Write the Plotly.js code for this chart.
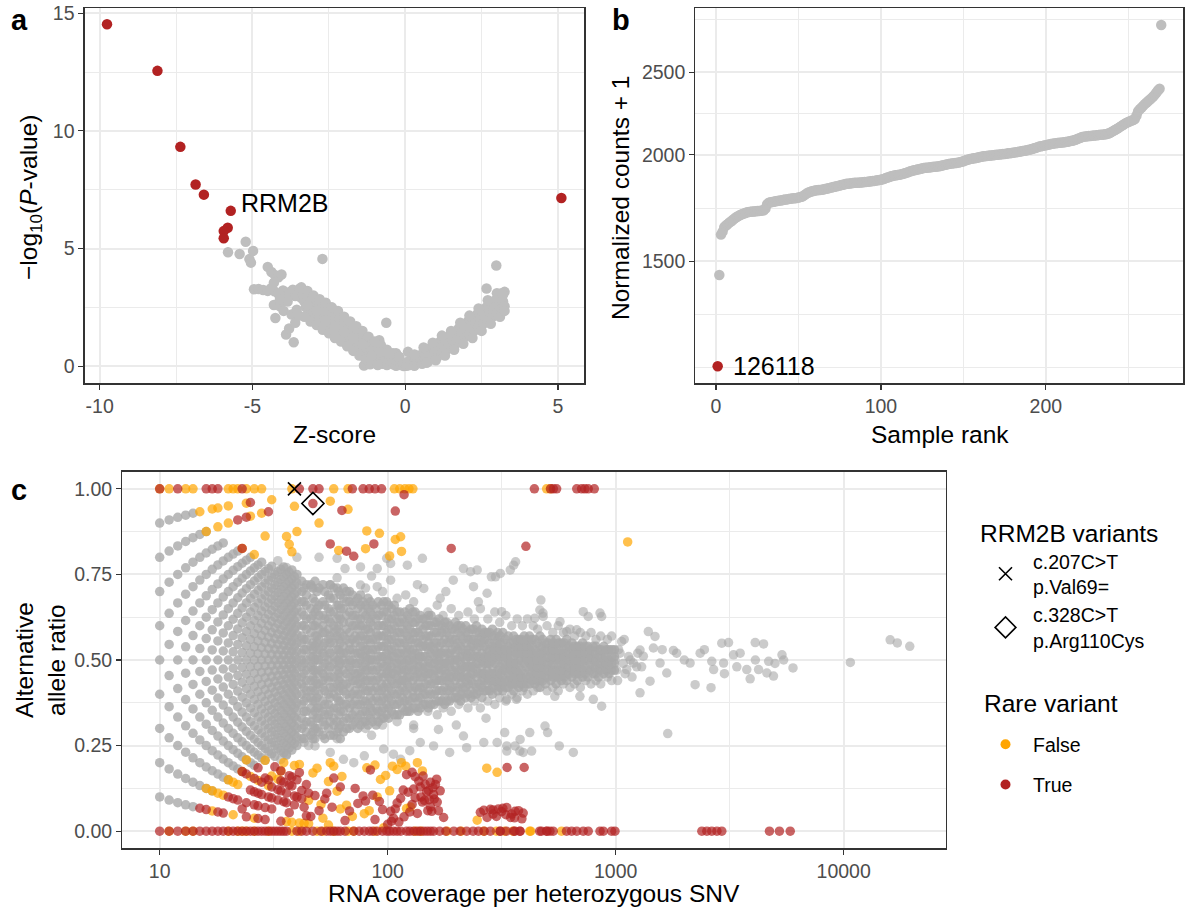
<!DOCTYPE html>
<html><head><meta charset="utf-8">
<script src="https://cdn.plot.ly/plotly-3.0.1.min.js"></script>
<style>html,body{margin:0;padding:0;background:#fff}#chart{width:1186px;height:912px}</style>
</head><body><div id="chart"></div>
<script>
// ---------- Panel a: Z-score vs -log10(P) ----------
const zTicks = [-10, -5, 0, 5];
const zTickText = ['-10', '-5', '0', '5'];
const pTicks = [0, 5, 10, 15];
const volcanoRed = [[-9.76,14.53],[-8.11,12.55],[-7.36,9.32],[-6.86,7.72],[-6.59,7.29],[-5.71,6.6],[-5.81,5.88],[-5.94,5.74],[-5.94,5.44],[5.11,7.15]];
const volcanoGrey = [
[-5.8,4.84],[-5.42,4.77],[-5.22,5.29],[-5.1,4.55],[-5.05,4.4],[-4.98,4.9],
[-4.95,3.27],[-4.8,3.28],[-4.65,3.24],[-4.5,3.2],[-4.4,3.3],[-4.28,3.18],[-4.15,3.08],[-4.0,3.22],[-3.88,3.0],[-3.78,3.15],[-3.68,3.25],[-3.6,2.98],[-3.52,3.12],[-3.45,3.3],[-3.4,2.9],
[-4.5,4.22],[-4.38,4.0],[-4.27,3.88],[-4.15,3.78],[-4.05,3.9],[-4.3,3.55],
[-4.25,2.05],[-4.3,2.6],[-4.1,2.55],[-3.98,2.35],[-3.9,1.35],[-3.65,1.02],[-3.8,1.6],[-3.72,2.2],[-3.6,1.85],[-3.55,2.4],[-3.48,2.15],[-3.85,2.75],[-4.1,2.85],
[-3.35,3.05],[-3.3,2.75],[-3.25,2.5],[-3.2,2.95],[-3.15,2.3],[-3.1,2.65],[-3.05,2.85],[-3.0,2.45],[-2.95,2.2],[-2.9,2.7],[-2.85,2.5],[-2.8,2.05],[-2.75,2.35],[-2.7,2.6],[-2.65,1.9],[-2.6,2.2],[-2.55,2.45],[-2.5,1.75],[-2.5,2.1],[-2.45,2.3],
[-2.4,1.6],[-2.35,1.95],[-2.3,2.2],[-2.25,1.45],[-2.2,1.75],[-2.15,2.0],[-2.1,1.3],[-2.05,1.6],[-2.0,1.85],[-1.95,1.15],[-1.9,1.45],[-1.85,1.65],[-1.8,1.0],[-1.75,1.3],[-1.7,1.55],[-1.65,0.85],[-1.6,1.15],[-1.55,1.4],[-1.5,0.7],[-1.5,1.0],
[-1.45,1.25],[-1.4,0.85],[-1.35,0.55],[-1.3,1.05],[-1.25,0.75],[-1.2,0.45],[-1.15,0.95],[-1.1,0.65],[-1.05,0.3],[-1.0,0.85],[-0.95,0.55],[-0.9,0.2],[-0.85,0.75],[-0.8,0.4],[-0.75,0.1],[-0.7,0.6],[-0.65,0.3],[-0.6,0.05],[-0.55,0.5],[-0.5,0.2],
[-0.45,0.4],[-0.4,0.08],[-0.35,0.28],[-0.3,0.02],[-0.25,0.18],[-0.2,0.35],[-0.15,0.05],[-0.1,0.15],[-0.05,0.01],[0.0,0.1],[0.05,0.02],[0.1,0.2],[0.15,0.05],[0.2,0.3],[0.25,0.1],[0.3,0.02],[0.35,0.35],[0.4,0.15],[0.45,0.45],[0.5,0.25],
[0.55,0.1],[0.6,0.55],[0.65,0.3],[0.7,0.7],[0.75,0.2],[0.8,0.45],[0.85,0.8],[0.9,0.35],[0.95,0.6],[1.0,0.95],[1.05,0.4],[1.1,0.7],[1.15,1.05],[1.2,0.55],[1.25,0.85],[1.3,1.15],[1.35,0.7],[1.4,1.0],[1.45,1.3],[1.5,0.8],
[1.55,1.1],[1.6,1.45],[1.65,0.95],[1.7,1.25],[1.75,1.6],[1.8,1.1],[1.85,1.4],[1.9,1.75],[1.95,1.25],[2.0,1.55],[2.05,1.9],[2.1,1.35],[2.15,1.7],[2.2,2.05],[2.25,1.5],[2.3,1.85],[2.35,2.2],[2.4,1.65],[2.45,2.0],[2.5,2.35],
[2.55,1.8],[2.6,2.15],[2.66,3.3],[2.65,2.5],[2.7,1.95],[2.75,2.3],[2.8,2.65],[2.85,2.1],[2.9,2.45],[2.95,2.8],[3.0,2.25],[3.05,2.6],[3.1,2.95],[3.13,3.09],[3.15,2.45],[3.2,2.75],[3.25,3.16],[3.25,2.55],[2.98,4.28],
[-2.71,4.56],[-0.62,1.85],[0.09,0.61],[-0.3,0.55],[-1.0,0.15],[-2.0,1.05],[-1.7,0.75],[0.3,0.5],[-0.85,1.1],[-1.35,0.03],[-1.15,0.08],
[-3.4,3.35],[-3.2,3.2],[-3.0,3.0],[-2.8,2.85],[-2.6,2.7],[-2.4,2.5],[-2.2,2.35],[-2.0,2.1],[-1.8,1.9],[-1.6,1.7],[-1.4,1.5],[-1.2,1.25],[-1.0,1.05],[-0.8,0.9],[-0.6,0.7],[-0.4,0.55],[-0.2,0.4],
[-3.3,2.1],[-3.1,1.9],[-2.9,1.75],[-2.7,1.55],[-2.5,1.4],[-2.3,1.2],[-2.1,1.05],[-1.9,0.85],[-1.7,0.65],[-1.5,0.45],[-1.3,0.3],[-1.1,0.12],[-0.9,0.05],
[-3.2,2.6],[-2.9,2.35],[-2.6,1.95],[-2.3,1.7],[-2.0,1.45],[-1.7,1.2],[-1.4,0.95],[-1.1,0.45],[-0.8,0.6],
[0.6,0.8],[0.9,1.0],[1.2,1.3],[1.5,1.5],[1.8,1.85],[2.1,2.15],[2.4,2.45],[2.7,2.8],[3.0,3.1],[3.2,3.05],
[0.7,0.15],[1.0,0.25],[1.3,0.45],[1.6,0.7],[1.9,0.95],[2.2,1.2],[2.5,1.5],[2.8,1.8],[3.1,2.1],[3.25,2.35]
];

// ---------- Panel b: sorted normalized counts ----------
const rankTicks = [0, 100, 200];
const countTicks = [1500, 2000, 2500];
const countsRed = [1129];          // sample 126118, rank 1
const countsGrey = [1445,1612,1625,1645,1652,1658,1665,1670,1676,
1682,1688,1693,1697,1701,1704,1707,1710,1712,1714,
1715,1716,1716,1717,1718,1718,1719,1720,1722,1730,
1750,1757,1759,1760,1762,1764,1765,1767,1768,1769,
1771,1772,1773,1775,1776,1777,1778,1779,1780,1782,
1784,1786,1790,1796,1802,1806,1809,1812,1814,1816,
1817,1818,1819,1820,1821,1823,1825,1827,1829,1831,
1833,1835,1837,1839,1841,1843,1845,1847,1849,1850,
1851,1852,1853,1854,1855,1855,1856,1856,1857,1858,
1859,1860,1861,1862,1863,1864,1866,1867,1869,1870,
1872,1875,1878,1881,1884,1887,1889,1891,1893,1894,
1895,1897,1899,1901,1904,1907,1910,1913,1916,1918,
1920,1922,1924,1926,1928,1930,1931,1932,1933,1934,
1935,1936,1937,1938,1939,1941,1943,1945,1947,1949,
1951,1953,1954,1955,1956,1957,1959,1961,1963,1966,
1969,1972,1975,1977,1979,1981,1982,1984,1986,1988,
1990,1992,1993,1994,1995,1996,1997,1998,1999,2000,
2001,2002,2003,2004,2005,2006,2008,2009,2010,2011,
2013,2014,2016,2017,2019,2021,2022,2024,2026,2028,
2030,2033,2036,2039,2042,2045,2047,2049,2051,2053,
2055,2057,2059,2061,2063,2064,2065,2066,2067,2068,
2069,2070,2072,2074,2076,2078,2080,2083,2087,2091,
2095,2099,2101,2102,2103,2104,2105,2106,2107,2108,
2109,2110,2111,2112,2113,2114,2116,2119,2123,2128,
2134,2139,2145,2151,2157,2163,2170,2176,2181,2186,
2190,2194,2198,2204,2225,2250,2262,2272,2283,2294,
2303,2312,2321,2330,2340,2352,2366,2380,2391,2841];

// ---------- Panel c: allele ratio vs coverage ----------
const covTicks = [10, 100, 1000, 10000];
const covTickText = ['10', '100', '1000', '10000'];
const ratioTicks = [0, 0.25, 0.5, 0.75, 1];
const ratioTickText = ['0.00', '0.25', '0.50', '0.75', '1.00'];
// low coverage: [coverage, [alt read counts]]
const fanColumns = [
[10,[1,2,3,4,5,6,7,8,9]],
[11,[1,2,3,4,5,6,7,8,9,10]],
[12,[1,2,3,4,5,6,7,8,9,10,11]],
[13,[1,2,3,4,5,6,7,8,9,10,11,12]],
[14,[1,2,3,4,5,6,7,8,9,10,11,12,13]],
[15,[2,3,4,5,6,7,8,9,10,11,12,13]],
[16,[2,3,4,5,6,7,8,9,10,11,12,13,14]],
[17,[2,3,4,5,6,7,8,9,10,11,12,13,14]],
[18,[3,4,5,6,7,8,9,10,11,12,13,14,15]],
[19,[3,4,5,6,7,8,9,10,11,12,13,14,15,16]],
[20,[3,4,5,6,7,8,9,10,11,12,13,14,15,16]],
[21,[4,5,6,7,8,9,10,11,12,13,14,15,16,17]],
[22,[4,5,6,7,8,9,10,11,12,13,14,15,16,17,18]],
[23,[4,5,6,7,8,9,10,11,12,13,14,15,16,17,18]],
[24,[5,6,7,8,9,10,11,12,13,14,15,16,17,18,19]],
[25,[5,6,7,8,9,10,11,12,13,14,15,16,17,18,19,20]],
[26,[5,6,7,8,9,10,11,12,13,14,15,16,17,18,19,20]],
[27,[6,7,8,9,10,11,12,13,14,15,16,17,18,19,20,21]],
[28,[6,7,8,9,10,11,12,13,14,15,16,17,18,19,20,21,22]],
[29,[6,7,8,9,10,11,12,13,14,15,16,17,18,19,20,21,22]],
[30,[7,8,9,10,11,12,13,14,15,16,17,18,19,20,21,22,23]],
[31,[7,8,9,10,11,12,13,14,15,16,17,18,19,20,21,22,23,24]],
[32,[7,8,9,10,11,12,13,14,15,16,17,18,19,20,21,22,23,24]],
[33,[8,9,10,11,12,13,14,15,16,17,18,19,20,21,22,23,24,25]],
[34,[8,9,10,11,12,13,14,15,16,17,18,19,20,21,22,23,24,25,26]],
[35,[8,9,10,11,12,13,14,15,16,17,18,19,20,21,22,23,24,25,26,27]],
[36,[8,9,10,11,12,13,14,15,16,17,18,19,20,21,22,23,24,25,26,27]],
[37,[9,10,11,12,13,14,15,16,17,18,19,20,21,22,23,24,25,26,27,28]],
[38,[9,10,11,12,13,14,15,16,17,18,19,20,21,22,23,24,25,26,27,28,29]],
[39,[10,11,12,13,14,15,16,17,18,19,20,21,22,23,24,25,26,27,28,29]],
[40,[10,11,12,13,14,15,16,17,18,19,20,21,22,23,24,25,26,27,28,29,30]]
];
// higher coverage: [coverage, [alternative allele ratios]]
const cloudColumns = [
[42,[.27,.3,.33,.37,.4,.43,.45,.48,.5,.52,.55,.57,.6,.64,.67,.7,.73]],
[44,[.29,.32,.35,.39,.41,.44,.47,.5,.53,.56,.59,.62,.66,.69,.72]],
[47,[.27,.29,.31,.34,.38,.42,.45,.47,.49,.51,.53,.55,.6,.63,.68,.71]],
[49,[.3,.33,.36,.39,.43,.46,.5,.52,.55,.57,.61,.65,.7]],
[52,[.28,.32,.35,.38,.42,.44,.46,.48,.52,.54,.58,.6,.63,.67,.72]],
[55,[.3,.34,.37,.4,.44,.47,.5,.53,.56,.59,.62,.65,.69]],
[58,[.28,.31,.33,.36,.4,.42,.45,.49,.51,.55,.58,.6,.64,.68,.71]],
[61,[.3,.34,.38,.41,.44,.46,.48,.5,.53,.56,.6,.63,.66,.7]],
[64,[.29,.32,.35,.37,.41,.43,.47,.5,.52,.54,.57,.61,.65,.68,.71]],
[68,[.3,.33,.36,.39,.42,.45,.48,.5,.53,.55,.58,.61,.64,.67,.7]],
[72,[.32,.35,.38,.41,.44,.46,.49,.52,.55,.57,.6,.63,.67]],
[76,[.31,.34,.37,.4,.43,.45,.47,.5,.52,.54,.57,.6,.62,.66,.69]],
[80,[.32,.35,.38,.41,.44,.47,.49,.51,.53,.56,.59,.63,.66]],
[84,[.33,.36,.39,.42,.45,.48,.5,.52,.55,.58,.61,.64,.67]],
[89,[.31,.34,.36,.39,.42,.44,.47,.5,.53,.56,.58,.62,.65]],
[94,[.33,.35,.38,.41,.43,.46,.49,.51,.54,.57,.6,.63,.66]],
[99,[.34,.37,.4,.43,.46,.48,.5,.52,.55,.58,.61,.64,.67]],
[104,[.35,.38,.41,.44,.46,.48,.51,.53,.56,.59,.62,.65]],
[110,[.34,.37,.4,.43,.45,.47,.49,.52,.55,.58,.61,.64]],
[116,[.36,.39,.42,.44,.46,.48,.5,.53,.56,.59,.62]],
[122,[.35,.37,.4,.43,.45,.47,.5,.52,.54,.57,.6,.63]],
[129,[.36,.39,.41,.44,.47,.49,.51,.53,.56,.58,.61,.64]],
[136,[.35,.38,.41,.43,.46,.48,.5,.52,.55,.58,.62]],
[143,[.37,.4,.42,.45,.47,.49,.51,.54,.56,.59,.62]],
[151,[.36,.38,.41,.44,.46,.48,.5,.53,.55,.57,.6,.63]],
[160,[.37,.4,.43,.45,.47,.49,.51,.53,.55,.58,.61]],
[168,[.38,.41,.44,.46,.48,.5,.52,.54,.57,.6,.62]],
[178,[.37,.39,.42,.45,.47,.49,.51,.53,.56,.59,.61]],
[187,[.38,.41,.43,.45,.48,.5,.52,.55,.57,.6]],
[198,[.39,.41,.44,.46,.48,.5,.52,.54,.56,.59,.61]],
[209,[.38,.4,.43,.45,.47,.49,.51,.54,.57,.6]],
[220,[.39,.42,.44,.46,.48,.5,.52,.55,.58,.6]],
[232,[.39,.41,.44,.46,.48,.5,.52,.54,.56,.59]],
[245,[.4,.42,.45,.47,.49,.51,.53,.55,.58,.6]],
[259,[.39,.42,.44,.46,.48,.5,.52,.55,.57,.59]],
[273,[.41,.43,.45,.47,.49,.51,.53,.56,.58]],
[288,[.4,.42,.44,.46,.48,.5,.52,.54,.57,.59]],
[304,[.41,.43,.45,.47,.5,.52,.54,.56,.58]],
[320,[.41,.43,.45,.47,.49,.51,.53,.55,.58]],
[338,[.42,.44,.46,.48,.5,.52,.54,.57]],
[357,[.41,.43,.45,.47,.49,.51,.53,.55,.57]],
[376,[.42,.44,.46,.48,.5,.52,.54,.56]],
[397,[.42,.44,.46,.49,.51,.53,.55,.57]],
[419,[.43,.45,.47,.49,.51,.53,.55,.57]],
[442,[.43,.45,.47,.49,.51,.53,.56]],
[466,[.42,.44,.46,.48,.5,.52,.54,.57]],
[492,[.43,.45,.47,.49,.51,.53,.55]],
[519,[.44,.46,.48,.5,.52,.54,.56]],
[548,[.43,.45,.47,.5,.52,.54,.56]],
[578,[.44,.46,.48,.5,.52,.55]],
[610,[.44,.46,.48,.5,.52,.54,.56]],
[643,[.45,.47,.49,.51,.53,.55]],
[679,[.44,.46,.48,.5,.52,.54]],
[716,[.45,.47,.49,.51,.53,.55]],
[755,[.45,.47,.5,.52,.54]],
[797,[.46,.48,.5,.52,.54]],
[841,[.45,.47,.49,.51,.53]],
[887,[.46,.48,.5,.52,.54]],
[936,[.46,.48,.5,.53]],
[988,[.47,.49,.51,.53]]
];
const cloudColumns2 = [
[43,[.27,.31,.35,.38,.42,.46,.49,.53,.56,.6,.63,.67,.71]],
[46,[.28,.32,.36,.39,.41,.44,.48,.51,.54,.58,.62,.65,.72]],
[48,[.27,.3,.35,.38,.41,.44,.47,.5,.54,.57,.6,.64,.67,.73]],
[50,[.29,.33,.36,.4,.43,.47,.5,.53,.56,.59,.63,.66,.71]],
[53,[.27,.31,.34,.37,.41,.45,.49,.51,.55,.58,.62,.66,.7]],
[56,[.28,.32,.35,.39,.42,.45,.48,.52,.55,.57,.61,.64,.68,.72]],
[60,[.29,.32,.36,.39,.43,.47,.5,.53,.57,.59,.62,.66,.71]],
[62,[.27,.31,.35,.38,.42,.45,.49,.52,.55,.58,.62,.65,.69]],
[66,[.3,.33,.37,.4,.43,.46,.49,.52,.56,.59,.63,.67,.7]],
[70,[.31,.34,.37,.4,.44,.47,.5,.53,.56,.6,.63,.66,.69]],
[74,[.3,.33,.37,.4,.43,.46,.49,.52,.56,.59,.62,.65,.68]],
[78,[.32,.35,.38,.42,.45,.48,.51,.54,.57,.6,.64,.67]],
[82,[.31,.34,.37,.41,.44,.47,.5,.53,.56,.59,.62,.65,.68]],
[86,[.32,.35,.38,.41,.44,.47,.5,.53,.56,.6,.63,.66]],
[91,[.32,.35,.38,.41,.45,.48,.51,.54,.57,.6,.63,.67]],
[96,[.33,.36,.39,.42,.45,.48,.51,.54,.57,.6,.64,.67]],
[101,[.33,.36,.39,.42,.45,.47,.5,.53,.56,.59,.62,.66]],
[107,[.34,.37,.4,.43,.46,.49,.51,.54,.57,.6,.63,.66]],
[113,[.34,.38,.41,.44,.47,.5,.52,.55,.58,.61,.64]],
[119,[.35,.38,.41,.44,.47,.49,.52,.55,.58,.61,.64]],
[125,[.35,.38,.42,.45,.48,.5,.53,.56,.59,.62,.65]],
[132,[.36,.39,.42,.45,.47,.5,.52,.55,.58,.61,.64]],
[139,[.36,.39,.42,.45,.48,.51,.54,.57,.6,.63]],
[147,[.37,.4,.43,.46,.48,.51,.54,.57,.6,.62]],
[155,[.37,.4,.43,.46,.49,.52,.54,.57,.6,.63]],
[164,[.38,.41,.44,.47,.5,.52,.55,.58,.61]],
[173,[.38,.41,.44,.47,.49,.52,.55,.58,.6]],
[182,[.38,.41,.44,.46,.49,.52,.55,.58,.61]],
[192,[.39,.42,.45,.47,.5,.53,.56,.59]],
[203,[.39,.42,.45,.47,.5,.53,.55,.58,.6]],
[214,[.4,.42,.45,.48,.51,.53,.56,.59]],
[226,[.4,.43,.45,.48,.51,.53,.56,.58]],
[238,[.4,.43,.46,.48,.51,.54,.56,.59]],
[252,[.41,.43,.46,.49,.51,.54,.56,.58]],
[266,[.41,.44,.46,.49,.51,.54,.56,.58]],
[280,[.41,.44,.46,.49,.51,.53,.55,.58]],
[296,[.42,.44,.46,.49,.51,.53,.55,.57]],
[312,[.42,.44,.46,.48,.51,.53,.55,.57]],
[329,[.42,.44,.47,.49,.51,.53,.56]],
[347,[.43,.45,.47,.49,.51,.53,.55]],
[366,[.43,.45,.47,.49,.52,.54,.56]],
[386,[.43,.45,.47,.5,.52,.54,.56]],
[408,[.43,.45,.48,.5,.52,.54,.56]],
[430,[.44,.46,.48,.5,.52,.54,.56]],
[454,[.44,.46,.48,.5,.52,.55]],
[479,[.44,.46,.48,.5,.52,.54,.56]],
[505,[.45,.47,.49,.51,.53,.55]],
[533,[.45,.47,.49,.51,.53,.55]],
[563,[.45,.47,.49,.51,.53,.55]],
[594,[.45,.47,.49,.51,.53,.55]],
[626,[.46,.48,.5,.52,.54]],
[661,[.46,.48,.5,.52,.54]],
[697,[.46,.48,.5,.52,.54]],
[735,[.46,.48,.5,.52,.54]],
[776,[.47,.49,.51,.53]],
[819,[.46,.48,.5,.52,.54]],
[864,[.47,.49,.51,.53]],
[911,[.47,.49,.51,.53]],
[962,[.47,.49,.51,.53]]
];
// scattered / high-coverage SNVs: [coverage, ratio]
const greyScatter = [
[40,.8],[50,.8],[60,.797],[65,.767],[76,.772],[90,.767],[99,.797],[103,.782],[122,.777],[142,.797],[215,.767],[231,.758],[247,.763],[285,.743],[312,.753],[345,.763],[357,.777],[364,.787],[46,.714],[56,.719],[76,.719],[90,.714],[103,.733],[144,.709],[194,.733],[238,.714],[273,.695],[297,.743],[470,.675],[480,.637],[316,.641],[465,.646],[481,.627],[442,.622],[721,.641],[758,.627],[854,.637],[868,.627],[570,.612],[610,.583],[675,.588],[120,.69],[170,.68],[250,.67],[60,.74],[85,.745],[135,.72],[180,.7],[33,.79],[36,.77],
[34,.21],[36,.225],[43,.259],[48,.249],[56,.23],[64,.21],[71,.2],[79,.22],[96,.24],[106,.225],[114,.21],[125,.235],[139,.259],[159,.249],[187,.23],[222,.244],[264,.259],[302,.259],[333,.249],[381,.268],[420,.288],[167,.297],[215,.278],[490,.307],[503,.288],[566,.249],[652,.23],[326,.288],[362,.249],[380,.234],[428,.234],[333,.234],[393,.23],[798,.385],[868,.365],[697,.394],[541,.394],[367,.385],[333,.385],[1692,.285],[60,.27],[85,.28],[130,.3],[200,.31],[270,.33],[45,.25],
[995,.5],[1010,.47],[1030,.53],[1045,.52],[1062,.554],[1080,.49],[1100,.46],[1118,.472],[1140,.51],[1160,.5],[1196,.491],[1237,.48],[1250,.52],[1279,.529],[1279,.404],[1323,.511],[1391,.583],[1415,.438],[1464,.535],[1488,.569],[1566,.491],[1676,.462],[1792,.528],[1852,.52],[2121,.491],[2231,.428],[2348,.52],[2620,.419],[2640,.496],[2690,.472],[2921,.549],[2975,.491],[3127,.551],[3289,.515],[3516,.52],[3760,.472],[3890,.445],[4094,.551],[4235,.472],[4455,.547],[4607,.462],[4690,.496],[4925,.453],[5365,.515],[5457,.5],[5996,.477],[10700,.493],[16000,.559],[17200,.55],[19500,.54],[1020,.44],[1090,.56],[1180,.45],[1300,.48],[1600,.53],[2000,.5],[2450,.53],[3000,.46],[3400,.48],[4100,.5],[5000,.49],
[150,.64],[165,.66],[175,.63],[190,.65],[205,.63],[225,.64],[240,.62],[255,.65],[275,.62],[295,.64],[310,.61],[330,.63],[350,.6],[370,.62],[390,.6],[410,.62],[435,.6],[455,.59],[500,.6],[530,.58],[560,.6],[590,.58],[630,.59],[660,.57],[700,.58],[740,.57],[780,.58],[820,.56],[860,.57],[920,.56],[960,.57],[110,.68],[130,.67],[95,.7],[80,.71],
[150,.35],[165,.34],[175,.36],[190,.35],[205,.37],[225,.36],[240,.38],[255,.36],[275,.38],[295,.37],[310,.39],[330,.38],[350,.4],[370,.39],[390,.41],[410,.4],[435,.41],[455,.42],[500,.41],[530,.42],[560,.41],[590,.43],[630,.42],[660,.43],[700,.42],[740,.44],[780,.43],[820,.44],[860,.43],[920,.45],[960,.44],[110,.32],[130,.31],[95,.31],[80,.3]
];
// rare variant = False (orange)
const rareFalse = [
[10,1],[11,1],[13,1],[14,1],[20,1],[21,1],[22,1],[24,1],[26,1],[28,1],[38,1],[58,1],[67,1],[107,1],[113,1],[119,1],[124,1],[129,1],[498,1],[518,1],
[15,.933],[17,.941],[18,.944],[20,.95],[24,.958],[28,.929],[31,.968],[16,.875],[18,.889],[20,.9],[25,.92],[29,.862],[26,.808],[36,.861],[37,.838],[38,.816],[40,.875],[39,.949],[50,.9],[56,.964],[67,.94],[61,.82],[81,.877],[92,.87],[80,.825],[102,.804],[108,.852],[114,.86],[115,.817],[23,.826],[1129,.845],
[16,.125],[17,.118],[18,.111],[20,.15],[21,.143],[23,.174],[31,.161],[39,.192],[41,.195],[26,.038],[21,.048],[17,.059],[38,.026],[41,.024],[43,.023],[52,.038],[51,.078],[60,.117],[62,.065],[66,.076],[79,.051],[96,.01],[81,.185],[88,.193],[93,.151],[98,.163],[102,.118],[105,.19],[115,.2],[142,.176],[121,.066],[126,.071],[247,.032],[272,.184],[302,.172],[49,.184],[55,.145],[58,.19],[45,.09],[35,.2],[29,.207],
[22,.136],[25,.16],[19,.105],[27,.148],[30,.133],[33,.152],[36,.028],[45,.022],[55,.018],[70,.043],[83,.06],[90,.1],[110,.18],[120,.19],[135,.2],[56,.2],[47,.17],[63,.16],[34,.176],[24,.208],
[11,0],[13,0],[22,0],[23,0],[24,0],[26,0],[38,0],[41,0],[49,0],[67,0],[71,0],[132,0],[182,0],[264,0],[326,0],[355,0],[420,0],[424,0],[579,0],[14,0],[20,0],[30,0],[52,0],[58,0],[88,0],[140,0],[210,0],[300,0]
];
// rare variant = True (red)
const rareTrue = [
[10,1],[12,1],[16,1],[17,1],[18,1],[23,1],[41,1],[47,1],[50,1],[70,1],[78,1],[83,1],[88,1],[94,1],[440,1],[518,1],[533,1],[551,1],[675,1],[709,1],[733,1],[758,1],[806,1],
[25,.96],[30,.933],[22,.909],[24,.917],[23,.826],[47,.957],[63,.937],[56,.839],[66,.818],[71,.803],[87,.839],[108,.935],[118,.983],[190,.826],[404,.832],
[23,.174],[24,.167],[26,.154],[27,.185],[29,.155],[30,.15],[32,.188],[34,.176],[34,.147],[37,.162],[37,.135],[38,.132],[39,.103],[42,.119],[34,.118],[35,.086],[36,.083],[39,.077],[42,.095],[29,.069],[27,.074],[24,.083],[22,.091],[23,.065],[24,.042],[29,.034],[19,.053],[15,.067],[16,.063],[34,.029],[46,.043],[50,.06],[54,.111],[58,.155],[62,.129],[65,.031],[72,.125],[78,.103],[80,.088],[86,.105],[88,.034],[84,.179],[106,.038],[108,.065],[110,.082],[114,.096],[123,.114],[130,.123],[139,.129],[132,.098],[151,.119],[154,.143],[159,.107],[142,.085],[154,.071],[156,.058],[167,.06],[176,.04],[121,.165],[128,.172],[132,.159],[164,.152],[145,.09],[148,.115],[160,.094],[150,.06],[162,.136],[137,.146],[143,.161],[100,.02],[104,.029],[112,.027],[264,.061],[282,.064],[306,.065],[333,.069],[362,.058],[388,.036],[273,.04],[300,.043],[346,.04],[334,.186],[397,.186],[316,.057],[330,.048],[360,.039],[393,.053],[44,.136],[48,.104],[31,.129],[33,.091],[27,.037],
[25,.12],[26,.115],[28,.107],[28,.143],[31,.097],[33,.121],[35,.143],[36,.111],[38,.158],[40,.1],[40,.15],[43,.07],[44,.045],[37,.054],[31,.065],[26,.077],[20,.1],[21,.095],[18,.056],[45,.111],[41,.171],[30,.1],[27,.111],[118,.042],[125,.056],[135,.052],[140,.1],[146,.137],[152,.092],[158,.127],[165,.085],[170,.118],[128,.078],[117,.12],[103,.058],[95,.063],[92,.087],[290,.05],[320,.067],[350,.05],[375,.06],[290,.062],[255,.055],[68,.059],[74,.081],[57,.07],[53,.094],
[10,0],[12,0],[15,0],[16,0],[17,0],[18,0],[19,0],[20,0],[21,0],[23,0],[25,0],[27,0],[29,0],[30,0],[32,0],[34,0],[36,0],[44,0],[47,0],[51,0],[54,0],[58,0],[62,0],[71,0],[79,0],[83,0],[90,0],[99,0],[106,0],[114,0],[121,0],[130,0],[139,0],[149,0],[159,0],[169,0],[195,0],[208,0],[222,0],[237,0],[282,0],[312,0],[357,0],[381,0],[464,0],[499,0],[311,0],[332,0],[362,0],[380,0],[473,0],[498,0],[515,0],[532,0],[609,0],[641,0],[675,0],[721,0],[758,0],[854,0],[883,0],[960,0],[993,0],[2388,0],[2512,0],[2640,0],[2780,0],[2921,0],[4727,0],[5228,0],[5831,0],
[11,0],[13,0],[14,0],[22,0],[24,0],[26,0],[28,0],[31,0],[33,0],[35,0],[40,0],[42,0],[56,0],[60,0],[65,0],[75,0],[86,0],[95,0],[102,0],[110,0],[125,0],[135,0],[144,0],[154,0],[180,0],[250,0],[265,0]
];
// RRM2B variants
const variantLabels = ['c.207C&gt;T<br>p.Val69=', 'c.328C&gt;T<br>p.Arg110Cys'];
const variantCov = [39, 47];
const variantRatio = [1.0, 0.957];
const rareLabels = ['False', 'True'];

// ---------- build ----------
const FONT = '"Liberation Sans", Arial, Helvetica, sans-serif';
const GREY = '#BEBEBE', RED = '#B22222', ORANGE = '#FFA500', DGREY = '#A9A9A9';
const col = (arr, i) => arr.map(p => p[i]);
const fanPts = [];
fanColumns.forEach(([n, ks]) => ks.forEach(k => fanPts.push([n, k / n])));
const cloudPts = [];
cloudColumns.concat(cloudColumns2).forEach(([n, rs]) => rs.forEach(r => cloudPts.push([n, r])));
const greyRanks = countsGrey.map((v, i) => i + 2);

const traces = [
  {type:'scatter', mode:'markers', x:col(volcanoGrey,0), y:col(volcanoGrey,1), xaxis:'x', yaxis:'y',
   marker:{size:10.5, color:GREY}, showlegend:false, hoverinfo:'skip'},
  {type:'scatter', mode:'markers', x:col(volcanoRed,0), y:col(volcanoRed,1), xaxis:'x', yaxis:'y',
   marker:{size:10.5, color:RED}, showlegend:false, hoverinfo:'skip'},
  {type:'scatter', mode:'markers', x:greyRanks, y:countsGrey, xaxis:'x2', yaxis:'y2',
   marker:{size:10.5, color:GREY}, showlegend:false, hoverinfo:'skip'},
  {type:'scatter', mode:'markers', x:[1], y:countsRed, xaxis:'x2', yaxis:'y2',
   marker:{size:10.5, color:RED}, showlegend:false, hoverinfo:'skip'},
  {type:'scatter', mode:'markers', x:col(fanPts,0), y:col(fanPts,1), xaxis:'x3', yaxis:'y3',
   marker:{size:9.5, color:DGREY, opacity:0.8}, showlegend:false, hoverinfo:'skip'},
  {type:'scatter', mode:'markers', x:col(cloudPts,0), y:col(cloudPts,1), xaxis:'x3', yaxis:'y3',
   marker:{size:9.5, color:DGREY, opacity:0.8}, showlegend:false, hoverinfo:'skip'},
  {type:'scatter', mode:'markers', x:col(greyScatter,0), y:col(greyScatter,1), xaxis:'x3', yaxis:'y3',
   marker:{size:9.5, color:DGREY, opacity:0.6}, showlegend:false, hoverinfo:'skip'},
  {type:'scatter', mode:'markers', x:col(rareFalse,0), y:col(rareFalse,1), xaxis:'x3', yaxis:'y3',
   marker:{size:9.5, color:ORANGE, opacity:0.7}, showlegend:false, hoverinfo:'skip'},
  {type:'scatter', mode:'markers', x:col(rareTrue,0), y:col(rareTrue,1), xaxis:'x3', yaxis:'y3',
   marker:{size:9.5, color:RED, opacity:0.7}, showlegend:false, hoverinfo:'skip'},
  {type:'scatter', mode:'markers', x:[variantCov[0]], y:[variantRatio[0]], xaxis:'x3', yaxis:'y3',
   name:variantLabels[0], legend:'legend',
   marker:{symbol:'x-thin-open', size:13, color:'#000', line:{width:1.6, color:'#000'}}, hoverinfo:'skip'},
  {type:'scatter', mode:'markers', x:[variantCov[1]], y:[variantRatio[1]], xaxis:'x3', yaxis:'y3',
   name:variantLabels[1], legend:'legend',
   marker:{symbol:'diamond-open', size:17, color:'#000', line:{width:1.6, color:'#000'}}, hoverinfo:'skip'},
  {type:'scatter', mode:'markers', x:[null], y:[null], xaxis:'x3', yaxis:'y3',
   name:rareLabels[0], legend:'legend2', legendgroup:'f', marker:{size:10, color:ORANGE}},
  {type:'scatter', mode:'markers', x:[null], y:[null], xaxis:'x3', yaxis:'y3',
   name:rareLabels[1], legend:'legend2', legendgroup:'t', marker:{size:10, color:RED}}
];

const axisBase = {
  showline:true, mirror:true, linecolor:'#333333', linewidth:1.3,
  ticks:'outside', ticklen:5, tickwidth:1.3, tickcolor:'#333333',
  tickfont:{size:19.5, color:'#4D4D4D', family:FONT},
  showgrid:true, gridcolor:'#EBEBEB', gridwidth:2, zeroline:false,
  automargin:false, fixedrange:true, tickmode:'array'
};
const minorBase = {showgrid:true, gridcolor:'#EBEBEB', gridwidth:1, ticks:''};
const titleFont = {size:24.5, color:'#000', family:FONT};
const W = 1186, H = 912;
const px = v => v / W, py = v => 1 - v / H;
const titleAnn = (text, x, y, angle) => ({text, xref:'paper', yref:'paper', x:px(x), y:py(y),
  xanchor:'center', yanchor:'middle', showarrow:false, textangle:angle || 0, font:titleFont});

const layout = {
  width:W, height:H, margin:{l:0, r:0, t:0, b:0},
  paper_bgcolor:'#fff', plot_bgcolor:'#fff',
  font:{family:FONT, color:'#000'}, showlegend:true, hovermode:false,
  xaxis:Object.assign({}, axisBase, {domain:[0.07142, 0.49267], anchor:'y', range:[-10.49, 5.86],
    tickvals:zTicks, ticktext:zTickText, minor:Object.assign({}, minorBase, {tickvals:[-7.5, -2.5, 2.5]})}),
  yaxis:Object.assign({}, axisBase, {domain:[0.57971, 0.99123], anchor:'x', range:[-0.7265, 15.22],
    tickvals:pTicks, ticktext:pTicks.map(String), minor:Object.assign({}, minorBase, {tickvals:[2.5, 7.5, 12.5]})}),
  xaxis2:Object.assign({}, axisBase, {domain:[0.58642, 0.99781], anchor:'y2', range:[-12.45, 283.45],
    tickvals:rankTicks, ticktext:rankTicks.map(String), minor:Object.assign({}, minorBase, {tickvals:[50, 150, 250]})}),
  yaxis2:Object.assign({}, axisBase, {domain:[0.57971, 0.99123], anchor:'x2', type:'log', range:[3.0327, 3.4735],
    tickvals:countTicks, ticktext:countTicks.map(String), minor:Object.assign({}, minorBase, {tickvals:[1125, 1299, 1732, 2236, 2887]})}),
  xaxis3:Object.assign({}, axisBase, {domain:[0.10312, 0.79764], anchor:'y3', type:'log', range:[0.836, 4.449],
    tickvals:covTicks, ticktext:covTickText, minor:Object.assign({}, minorBase, {tickvals:[31.62, 316.2, 3162]})}),
  yaxis3:Object.assign({}, axisBase, {domain:[0.06985, 0.48279], anchor:'x3', range:[-0.05, 1.05],
    tickvals:ratioTicks, ticktext:ratioTickText, minor:Object.assign({}, minorBase, {tickvals:[0.125, 0.375, 0.625, 0.875]})}),
  legend:{title:{text:'RRM2B variants', font:titleFont}, x:px(978), y:py(510), xanchor:'left', yanchor:'top',
    font:{size:19.5, color:'#000', family:FONT}, bgcolor:'rgba(0,0,0,0)', borderwidth:0, itemwidth:45, tracegroupgap:0},
  legend2:{x:px(978), y:py(725), xanchor:'left', yanchor:'top',
    font:{size:19.5, color:'#000', family:FONT}, bgcolor:'rgba(0,0,0,0)', borderwidth:0, itemwidth:45, tracegroupgap:12},
  annotations:[
    titleAnn('Z-score', 334.5, 434),
    titleAnn('Sample rank', 939.5, 434),
    titleAnn('\u2212log<sub>10</sub>(<i>P</i>-value)', 30, 197, -90),
    titleAnn('Normalized counts + 1', 621, 198, -90),
    titleAnn('Alternative<br>allele ratio', 40, 660, -90),
    titleAnn('RNA coverage per heterozygous SNV', 534, 893),
    {text:'Rare variant', xref:'paper', yref:'paper', x:px(982), y:py(703), xanchor:'left', yanchor:'middle', showarrow:false, font:titleFont},
    {text:'<b>a</b>', xref:'paper', yref:'paper', x:px(9), y:py(2), xanchor:'left', yanchor:'top', showarrow:false, font:{size:29, color:'#000'}},
    {text:'<b>b</b>', xref:'paper', yref:'paper', x:px(610), y:py(2), xanchor:'left', yanchor:'top', showarrow:false, font:{size:29, color:'#000'}},
    {text:'<b>c</b>', xref:'paper', yref:'paper', x:px(9), y:py(472), xanchor:'left', yanchor:'top', showarrow:false, font:{size:29, color:'#000'}},
    {text:'RRM2B', xref:'x', yref:'y', x:-5.45, y:6.93, xanchor:'left', yanchor:'middle', showarrow:false, font:{size:25, color:'#000'}},
    {text:'126118', xref:'x2', yref:'y2', x:9.1, y:Math.log10(countsRed[0]), xanchor:'left', yanchor:'middle', showarrow:false, font:{size:25, color:'#000'}}
  ]
};

Plotly.newPlot('chart', traces, layout, {displayModeBar:false, staticPlot:true});
</script></body></html>
